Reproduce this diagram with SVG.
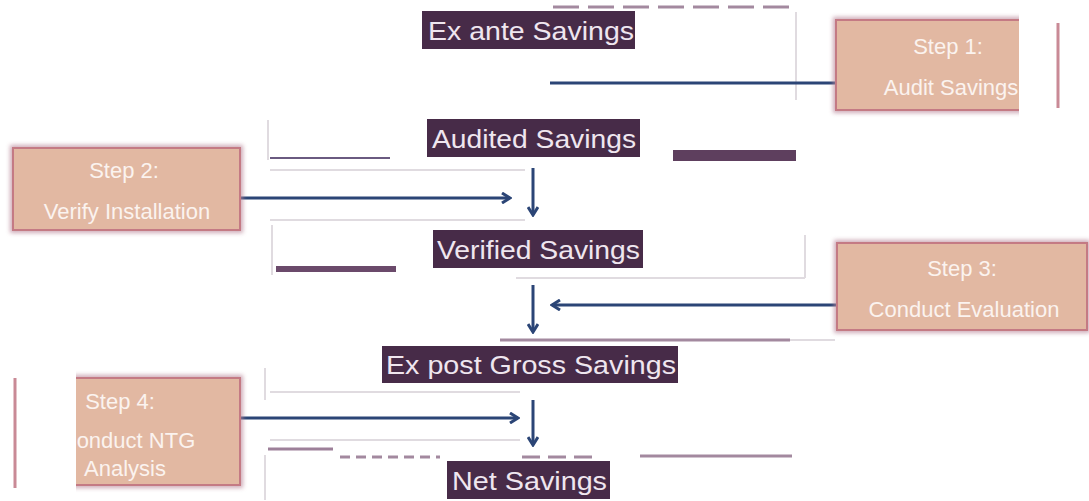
<svg xmlns="http://www.w3.org/2000/svg" width="1089" height="501" viewBox="0 0 1089 501">
<style>
.lbl{fill:#472b48}
.lt{font-family:"Liberation Sans",Arial,sans-serif;font-size:26px;fill:#efe6ef}
.step{fill:#e2b8a2;stroke:#c47a84;stroke-width:2}
.halo{fill:none;stroke:#b9879a;stroke-width:6;filter:url(#blur);opacity:.7}
.st{font-family:"Liberation Sans",Arial,sans-serif;font-size:22px;fill:#fbf3ef;text-anchor:middle}
.arr{stroke:#2b4576;stroke-width:3;fill:none}
.faint{stroke:#e0dbe0;stroke-width:2;fill:none}
.pl{stroke:#a3899f;stroke-width:3;fill:none}
</style>
<defs>
<filter id="blur" x="-10%" y="-20%" width="120%" height="140%"><feGaussianBlur stdDeviation="2"/></filter>
<marker id="head" viewBox="0 0 12 12" refX="10" refY="6" markerWidth="12" markerHeight="12" markerUnits="userSpaceOnUse" orient="auto"><polyline points="2,1 10,6 2,11" fill="none" stroke="#2b4576" stroke-width="3"/></marker>
<clipPath id="c1"><rect x="820" y="0" width="199" height="130"/></clipPath>
<clipPath id="c4"><rect x="76" y="360" width="200" height="140"/></clipPath>
</defs>
<rect width="1089" height="501" fill="#ffffff"/>

<g id="artifacts">
<path class="faint" d="M796 12V100 M268 120V160 M272 225V275 M805 235V278 M516 278H805 M516 340H835 M265 368V400 M265 455V500 M270 170H525 M270 220H525 M270 392H520 M270 440H520"/>
<path class="pl" d="M553 7H791" stroke-dasharray="26 9"/>
<path d="M270 158H390" stroke="#6a5a80" stroke-width="2"/>
<rect x="673" y="150" width="123" height="11" fill="#5e3f5e"/>
<rect x="276" y="266" width="120" height="6" fill="#6b4a6b"/>
<path class="pl" d="M500 340H790" stroke-width="2"/>
<path d="M268 449H333" stroke="#9d8099" stroke-width="3"/>
<path class="pl" d="M340 457H440" stroke-dasharray="10 6" stroke-width="2"/>
<path class="pl" d="M522 457H596" stroke-dasharray="18 8" stroke-width="2"/>
<path class="pl" d="M640 456H792" stroke-width="2"/>
<path d="M1058 23V108 M15 378V488" stroke="#c98a96" stroke-width="3"/>
</g>

<g id="connectors">
<path class="arr" d="M550 83H836"/>
<path class="arr" d="M240 198H510" marker-end="url(#head)"/>
<path class="arr" d="M533 168V215" marker-end="url(#head)"/>
<path class="arr" d="M837 305H552" marker-end="url(#head)"/>
<path class="arr" d="M533 285V332" marker-end="url(#head)"/>
<path class="arr" d="M240 418H518" marker-end="url(#head)"/>
<path class="arr" d="M533 400V445" marker-end="url(#head)"/>
</g>

<g id="ex-ante">
<rect class="lbl" x="422" y="11" width="213" height="38"/>
<text class="lt" x="428" y="40" textLength="206" lengthAdjust="spacingAndGlyphs">Ex ante Savings</text>
</g>
<g id="audited">
<rect class="lbl" x="427" y="119" width="213" height="38"/>
<text class="lt" x="432" y="148" textLength="204" lengthAdjust="spacingAndGlyphs">Audited Savings</text>
</g>
<g id="verified">
<rect class="lbl" x="433" y="230" width="210" height="38"/>
<text class="lt" x="437" y="259" textLength="203" lengthAdjust="spacingAndGlyphs">Verified Savings</text>
</g>
<g id="ex-post">
<rect class="lbl" x="382" y="346" width="296" height="37"/>
<text class="lt" x="386" y="374" textLength="290" lengthAdjust="spacingAndGlyphs">Ex post Gross Savings</text>
</g>
<g id="net">
<rect class="lbl" x="447" y="461" width="163" height="38"/>
<text class="lt" x="452" y="490" textLength="155" lengthAdjust="spacingAndGlyphs">Net Savings</text>
</g>

<g id="step1" clip-path="url(#c1)">
<rect class="halo" x="836" y="20" width="215" height="90"/>
<rect class="step" x="836" y="20" width="215" height="90"/>
<text class="st" x="948" y="54">Step 1:</text>
<text class="st" x="951" y="95">Audit Savings</text>
</g>
<g id="step2">
<rect class="halo" x="13" y="148" width="227" height="82"/>
<rect class="step" x="13" y="148" width="227" height="82"/>
<text class="st" x="124" y="178">Step 2:</text>
<text class="st" x="127" y="219">Verify Installation</text>
</g>
<g id="step3">
<rect class="halo" x="837" y="243" width="250" height="87"/>
<rect class="step" x="837" y="243" width="250" height="87"/>
<text class="st" x="962" y="276">Step 3:</text>
<text class="st" x="964" y="317">Conduct Evaluation</text>
</g>
<g id="step4" clip-path="url(#c4)">
<rect class="halo" x="40" y="378" width="200" height="107"/>
<rect class="step" x="40" y="378" width="200" height="107"/>
<text class="st" x="120" y="409">Step 4:</text>
<text class="st" x="128" y="448">Conduct NTG</text>
<text class="st" x="125" y="476">Analysis</text>
</g>
</svg>
